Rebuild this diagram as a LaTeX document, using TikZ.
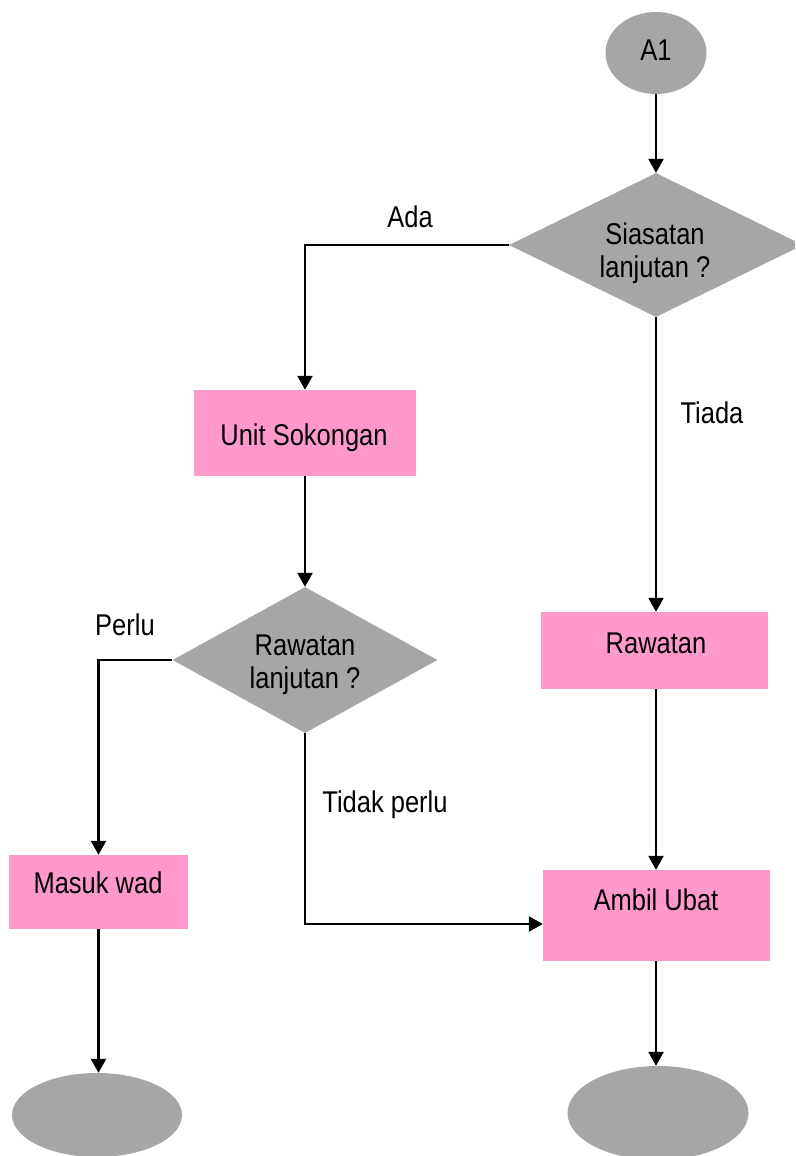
\documentclass[tikz,border=0pt]{standalone}
\usepackage{fontspec}
\setmainfont{Liberation Sans}[FakeStretch=0.85]
\usetikzlibrary{shapes.geometric,arrows.meta}
\definecolor{fgray}{HTML}{A6A6A6}
\definecolor{fpink}{HTML}{FF99CC}
\tikzset{
  conn/.style={line width=2.5pt, -{Triangle[width=15pt,length=14pt]}},
  term/.style={ellipse, fill=fgray, draw=none, inner sep=0pt},
  dec/.style={diamond, fill=fgray, draw=none, inner sep=0pt},
  proc/.style={rectangle, fill=fpink, draw=none, inner sep=0pt},
  txt/.style={anchor=base, align=center, inner sep=0pt, font=\fontsize{30}{33}\selectfont},
}
\begin{document}
\begin{tikzpicture}[x=1pt,y=-1pt]
\useasboundingbox (0,0) rectangle (795,1156);
\clip (0,0) rectangle (795,1156);
% shapes
\node[term, minimum width=101pt, minimum height=82pt] (a1) at (656,53) {};
\node[dec, minimum width=294pt, minimum height=144pt] (d1) at (656,245) {};
\node[proc, minimum width=222pt, minimum height=86pt] (unit) at (305,433) {};
\node[dec, minimum width=265pt, minimum height=146pt] (d2) at (305,660) {};
\node[proc, minimum width=227pt, minimum height=77pt] (raw) at (654.5,650.5) {};
\node[proc, minimum width=179pt, minimum height=74pt] (wad) at (98.5,892) {};
\node[proc, minimum width=227pt, minimum height=91pt] (ubat) at (656.5,915.5) {};
\node[term, minimum width=170pt, minimum height=84pt] (e1) at (97,1115) {};
\node[term, minimum width=181pt, minimum height=94pt] (e2) at (658,1113) {};
% texts
\node[txt] (ta1) at (656,60) {A1};
\node[txt] (td1) at (655,277) {Siasatan\\lanjutan ?};
\node[txt] (tunit) at (304,445) {Unit Sokongan};
\node[txt] (td2) at (305,688) {Rawatan\\lanjutan ?};
\node[txt] (traw) at (656,653) {Rawatan};
\node[txt] (twad) at (98,893) {Masuk wad};
\node[txt] (tubat) at (656,910) {Ambil Ubat};
\node[txt] (lada) at (410,227) {Ada};
\node[txt] (ltiada) at (712,423) {Tiada};
\node[txt] (lperlu) at (125,635) {Perlu};
\node[txt] (ltidak) at (385,812) {Tidak perlu};
% connectors
\draw[conn] (a1.south) -- (a1.south |- d1.north);
\draw[conn] (d1.west) -| (unit.north);
\draw[conn] (unit.south) -- (unit.south |- d2.north);
\draw[conn] (d2.west) -| (wad.north);
\draw[conn] (wad.south) -- (wad.south |- e1.north);
\draw[conn] (d1.south) -- (d1.south |- raw.north);
\draw[conn] (d1.south |- raw.south) -- (d1.south |- ubat.north);
\draw[conn] (d2.south) |- (ubat.west |- 0,924);
\draw[conn] (d1.south |- ubat.south) -- (d1.south |- e2.north);
\end{tikzpicture}
\end{document}
